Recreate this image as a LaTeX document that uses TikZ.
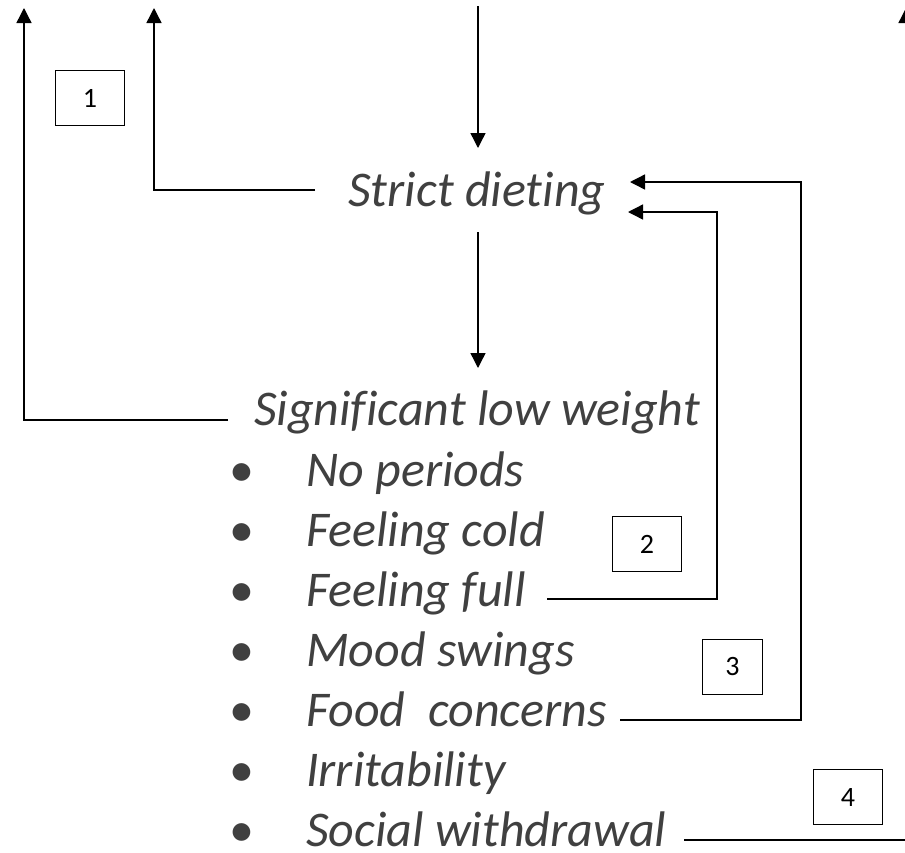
\documentclass[tikz,border=0pt]{standalone}
\usepackage{fontspec}
\setmainfont[Ligatures={NoCommon}]{Carlito}
\usetikzlibrary{arrows.meta}
\definecolor{txt}{HTML}{404040}
\tikzset{
  lbl/.style={inner sep=0pt, anchor=base, text=txt, font=\fontsize{50}{56}\selectfont\itshape},
  item/.style={inner sep=0pt, text depth=0pt, anchor=base west, text=txt, font=\fontsize{50}{56}\selectfont\itshape},
  bul/.style={inner sep=0pt, text depth=0pt, anchor=base, text=txt, font=\fontsize{50}{56}\selectfont},
  numbox/.style={draw=black, line width=1pt, minimum width=69pt, minimum height=55pt, inner sep=0pt, anchor=north west, font=\fontsize{28}{30}\selectfont},
  conn/.style={draw=black, line width=1.4pt},
  arr/.style={conn, -{Triangle[length=15pt,width=15pt]}}
}
\begin{document}
\begin{tikzpicture}[x=1pt,y=-1pt]
\useasboundingbox (0,0) rectangle (905,852);
\clip (0,0) rectangle (905,852);
% text nodes
\node[lbl] (strict) at (477,206) {Strict dieting};
\node[lbl] (sig) at (477,425) {Significant low weight};
\foreach \n/\t/\y in {p/No periods/486, cold/Feeling cold/546, full/Feeling full/606, mood/Mood swings/666, food/Food\ \ concerns/726.5, irr/Irritability/786.5, soc/Social withdrawal/846.5}{
  \node[item] (\n) at (306,\y) {\t};
  \node[bul] (b\n) at (242,\y) {•};
}
% boxes
\node[numbox] (n1) at (55,70) {1};
\node[numbox] (n2) at (612,516) {2};
\node[numbox, minimum width=60pt] (n3) at (702,639) {3};
\node[numbox] (n4) at (813,769) {4};
% connector end points
\coordinate (topin) at (478,6);
\coordinate (strictin) at (478,148);
\coordinate (strictout) at (478,232);
\coordinate (sigin) at (478,368);
\coordinate (sigl) at (228,420);
\coordinate (c1) at (24,420);
\coordinate (t1) at (24,8);
\coordinate (strictl) at (315,190);
\coordinate (c2) at (154,190);
\coordinate (t2) at (154,8);
\coordinate (fullr) at (547,599);
\coordinate (c3a) at (717,599);
\coordinate (c3b) at (717,212);
\coordinate (strictr2) at (628,212);
\coordinate (foodr) at (620,720);
\coordinate (c4a) at (801,720);
\coordinate (c4b) at (801,182);
\coordinate (strictr1) at (630,182);
\coordinate (socr) at (684,840);
\coordinate (c5) at (906,840);
\coordinate (t5) at (906,8);
% connectors
\draw[arr] (topin) -- (strictin);
\draw[arr] (strictout) -- (sigin);
\draw[arr] (sigl) -- (c1) -- (t1);
\draw[arr] (strictl) -- (c2) -- (t2);
\draw[arr] (fullr) -- (c3a) -- (c3b) -- (strictr2);
\draw[arr] (foodr) -- (c4a) -- (c4b) -- (strictr1);
\draw[arr] (socr) -- (c5) -- (t5);
\end{tikzpicture}
\end{document}
